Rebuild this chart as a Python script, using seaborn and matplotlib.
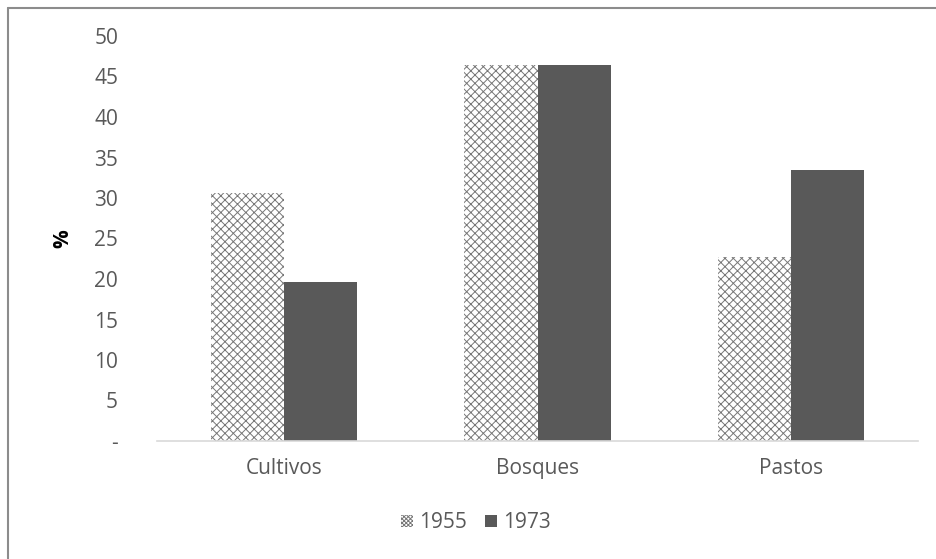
import matplotlib
matplotlib.use("Agg")
import matplotlib.pyplot as plt
from matplotlib.patches import Patch
from matplotlib.lines import Line2D
import seaborn as sns
import pandas as pd

categories = ["Cultivos", "Bosques", "Pastos"]
years = ["1955", "1973"]
values_1955 = [30.6, 46.4, 22.7]
values_1973 = [19.6, 46.4, 33.5]
y_ticks = [0, 5, 10, 15, 20, 25, 30, 35, 40, 45, 50]
y_tick_labels = ["-", "5", "10", "15", "20", "25", "30", "35", "40", "45", "50"]

df = pd.DataFrame({
    "uso": categories * 2,
    "anio": [years[0]] * 3 + [years[1]] * 3,
    "pct": values_1955 + values_1973,
})

sns.set_theme(style="white")
plt.rcParams["font.family"] = ["Open Sans", "DejaVu Sans"]
plt.rcParams["hatch.linewidth"] = 0.7

text_color = "#595959"
dark = "#595959"
hatch_color = "#777777"
hatch = "xxxx"

fig = plt.figure(figsize=(9.36, 5.59), dpi=100)
ax = fig.add_axes([157 / 936, 1 - 441 / 559, (918 - 157) / 936, (441 - 36) / 559])

sns.barplot(data=df, x="uso", y="pct", hue="anio", order=categories,
            hue_order=years, palette=["white", dark], width=0.576,
            saturation=1, ax=ax, legend=False)

for bar in ax.containers[0]:
    bar.set_facecolor("white")
    bar.set_edgecolor(hatch_color)
    bar.set_hatch(hatch)
    bar.set_linewidth(0)
for bar in ax.containers[1]:
    bar.set_facecolor(dark)
    bar.set_edgecolor(dark)
    bar.set_linewidth(0)

ax.set_xlim(-0.5, 2.5)
ax.set_ylim(0, 50)
ax.set_yticks(y_ticks)
ax.set_yticklabels(y_tick_labels)
ax.set_xlabel("")
ax.set_ylabel("%", fontsize=15, fontweight="bold", color="black", labelpad=15)
ax.tick_params(axis="both", length=0, labelsize=15, colors=text_color)
ax.tick_params(axis="x", pad=12)
ax.tick_params(axis="y", pad=28)

for side in ["top", "right", "left"]:
    ax.spines[side].set_visible(False)
ax.spines["bottom"].set_color("#d9d9d9")
ax.spines["bottom"].set_linewidth(1.2)

handles = [
    Patch(facecolor="white", edgecolor=hatch_color, hatch="x" * 8, linewidth=0, label=years[0]),
    Patch(facecolor=dark, edgecolor=dark, linewidth=0, label=years[1]),
]
fig.legend(handles=handles, loc="center", bbox_to_anchor=(476 / 936, 1 - 523 / 559),
           ncol=2, frameon=False, fontsize=15, handlelength=0.55, handleheight=0.55,
           handletextpad=0.3, columnspacing=0.9, labelcolor=text_color)

# outer chart frame
fig.add_artist(Line2D([8 / 936, 8 / 936], [0, 1 - 8 / 559], transform=fig.transFigure,
                      color="#8c8c8c", linewidth=1.5))
fig.add_artist(Line2D([8 / 936, 1], [1 - 8 / 559, 1 - 8 / 559], transform=fig.transFigure,
                      color="#8c8c8c", linewidth=1.5))

fig.savefig("out.png", dpi=100, facecolor="white")
